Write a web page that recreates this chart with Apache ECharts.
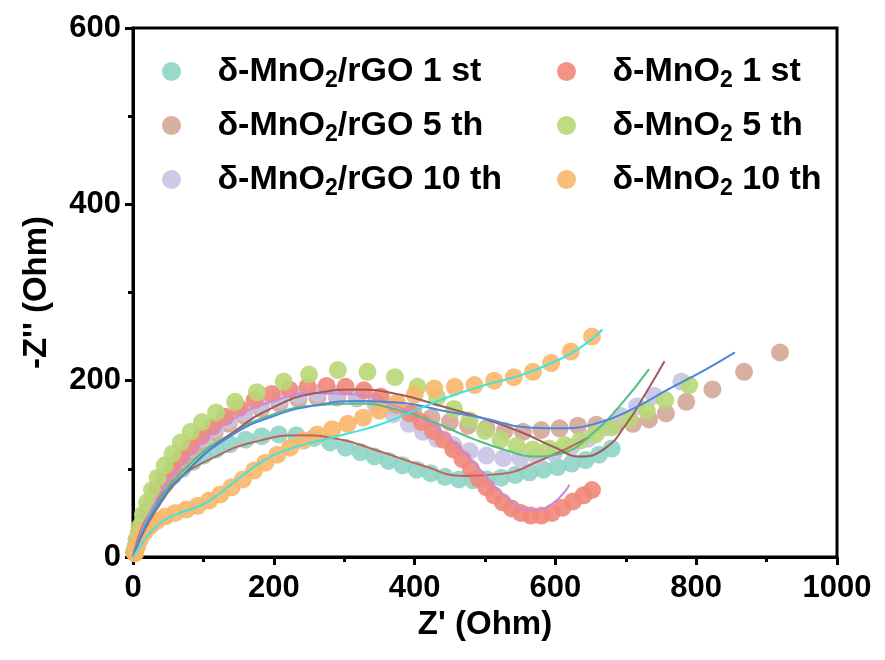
<!DOCTYPE html>
<html>
<head>
<meta charset="utf-8">
<script src="https://cdn.jsdelivr.net/npm/echarts@6/dist/echarts.min.js"></script>
<style>
  html, body { margin: 0; padding: 0; background: #fff; }
  #main { width: 885px; height: 660px; }
</style>
</head>
<body>
<div id="main"></div>
<script>
// measured points, [Z', -Z'']
var rgo1 = [[3,8],[6,18],[10,30],[15,42],[20,52],[27,62],[35,72],[45,82],[57,92],[70,100],[85,108],[100,115],[118,122],[138,128],[160,133],[183,137],[207,139],[232,138],[257,135],[280,130],[302,124],[323,119],[343,114],[363,109],[383,104],[403,99],[423,95],[443,91],[463,88],[483,87],[503,88],[523,90],[543,93],[563,96],[583,99],[603,102],[623,106],[643,110],[662,116],[680,123]];
var rgo5 = [[2,6],[5,15],[9,27],[14,39],[20,50],[27,62],[35,73],[45,85],[56,97],[68,108],[82,119],[98,130],[116,141],[136,151],[158,160],[182,168],[208,174],[235,179],[262,181],[290,181],[318,180],[345,176],[372,170],[398,164],[424,158],[450,153],[476,149],[502,146],[528,143],[554,142],[580,144],[606,146],[632,149],[658,150],[684,150],[710,151],[733,156],[757,163],[786,176],[823,190],[868,210],[919,232]];
var rgo10 = [[2,6],[5,16],[9,28],[14,40],[20,52],[27,64],[35,76],[45,88],[56,100],[68,112],[82,123],[98,134],[116,145],[136,155],[158,164],[182,172],[208,179],[235,184],[262,186],[290,185],[318,181],[345,172],[370,162],[392,151],[412,142],[432,134],[455,127],[478,120],[502,115],[526,112],[550,112],[574,114],[598,118],[622,124],[646,134],[670,147],[693,160],[716,171],[740,183],[779,199]];
var mno1 = [[2,5],[5,15],[9,28],[14,40],[20,52],[27,64],[35,76],[45,89],[56,101],[68,113],[82,125],[97,137],[113,148],[131,159],[151,169],[173,178],[197,185],[222,190],[248,193],[275,194],[302,193],[328,189],[352,182],[374,173],[393,163],[410,153],[426,143],[441,133],[455,122],[468,111],[480,100],[491,89],[502,79],[513,70],[525,62],[538,55],[551,50],[565,47],[580,47],[595,50],[610,56],[625,63],[640,70],[652,76]];
var mno5 = [[2,8],[5,20],[9,34],[14,48],[20,62],[27,76],[35,90],[45,104],[56,117],[68,130],[82,142],[98,153],[118,164],[145,176],[176,187],[214,199],[250,207],[291,212],[333,210],[372,204],[404,193],[432,181],[456,168],[478,155],[500,143],[522,133],[545,126],[568,122],[591,123],[613,127],[635,132],[657,139],[680,147],[705,156],[730,166],[756,178],[790,195]];
var mno10 = [[3,4],[6,12],[10,20],[16,28],[24,35],[34,41],[46,46],[60,50],[76,54],[92,58],[108,64],[124,71],[140,79],[156,88],[172,98],[188,107],[205,116],[223,124],[242,132],[262,139],[283,145],[305,151],[327,158],[350,166],[375,175],[400,184],[428,191],[457,193],[485,195],[513,200],[541,204],[568,210],[594,220],[622,233],[652,250]];

// fitted curves
var fitRgo1 = [[0,0],[20,45],[60,85],[120,115],[180,132],[235,138],[290,134],[350,120],[410,104],[470,92],[520,94],[580,110],[648,136]];
var fitMno1 = [[0,0],[30,60],[80,115],[140,155],[200,177],[260,186],[320,184],[370,172],[410,158],[450,135],[490,102],[530,68],[565,53],[595,60],[620,82]];
var fitMno5 = [[0,0],[30,55],[80,105],[140,140],[200,162],[260,172],[320,174],[380,166],[430,152],[480,135],[530,121],[570,114],[610,118],[650,138],[690,170],[733,213]];
var fitRgo10 = [[0,0],[30,50],[80,100],[140,140],[200,170],[260,186],[320,190],[380,184],[430,173],[490,159],[550,142],[600,124],[635,114],[670,123],[700,150],[730,188],[755,222]];
var fitRgo5 = [[0,0],[30,52],[80,100],[140,138],[200,160],[260,172],[320,177],[380,175],[440,166],[500,157],[560,147],[610,146],[660,152],[710,168],[760,190],[810,211],[855,232]];
var fitMno10 = [[0,0],[10,12],[25,28],[45,42],[70,51],[95,58],[120,70],[150,89],[185,109],[220,122],[260,131],[300,139],[350,150],[400,166],[450,182],[500,195],[550,206],[600,222],[640,240],[667,258]];

var names = ['δ-MnO2/rGO 1 st','δ-MnO2/rGO 5 th','δ-MnO2/rGO 10 th','δ-MnO2 1 st','δ-MnO2 5 th','δ-MnO2 10 th'];
var colors = ['#8fd4c6','#d4a797','#c6c4e4','#f2877a','#b8d877','#f8b76c'];

var FONT = '"Liberation Sans", Arial, sans-serif';

function legendFmt(name) {
  var parts = name.split('2');
  return '{a|' + parts[0] + '}{s|2}{a|' + parts[1] + '}';
}
var legendText = {
  fontFamily: FONT,
  rich: {
    a: { fontSize: 34, fontWeight: 'bold', color: '#000', fontFamily: FONT, lineHeight: 40 },
    s: { fontSize: 23, fontWeight: 'bold', color: '#000', fontFamily: FONT, lineHeight: 40, padding: [18, 0, 0, 0] }
  }
};

function dots(i, data) {
  return {
    name: names[i], type: 'scatter', data: data, symbolSize: 18,
    itemStyle: { color: colors[i], opacity: 0.9 }, z: 2
  };
}
function fit(data, c) {
  return {
    type: 'line', data: data, smooth: true, showSymbol: false, silent: true,
    lineStyle: { color: c, width: 2 }, z: 5
  };
}

var chart = echarts.init(document.getElementById('main'));
chart.setOption({
  animation: false,
  backgroundColor: '#fff',
  grid: { left: 133, right: 48, top: 28, bottom: 103, show: true, borderColor: '#000', borderWidth: 3 },
  legend: [{
    data: names.slice(0, 3), orient: 'vertical', left: 157, top: 46,
    icon: 'circle', itemWidth: 82, itemHeight: 19, itemGap: 13,
    formatter: legendFmt, textStyle: legendText
  }, {
    data: names.slice(3), orient: 'vertical', left: 552, top: 46,
    icon: 'circle', itemWidth: 82, itemHeight: 19, itemGap: 13,
    formatter: legendFmt, textStyle: legendText
  }],
  xAxis: {
    type: 'value', min: 0, max: 1000, interval: 200,
    name: "Z' (Ohm)", nameLocation: 'middle', nameGap: 50,
    nameTextStyle: { fontSize: 33, fontWeight: 'bold', color: '#000', fontFamily: FONT },
    axisLine: { lineStyle: { color: '#000', width: 3 } },
    axisTick: { length: 8, lineStyle: { width: 3, color: '#000' } },
    minorTick: { show: true, splitNumber: 2, length: 5, lineStyle: { width: 3, color: '#000' } },
    axisLabel: { fontSize: 31, fontWeight: 'bold', color: '#000', fontFamily: FONT, margin: 16,
      formatter: function (v) { return String(v); } },
    splitLine: { show: false }
  },
  yAxis: {
    type: 'value', min: 0, max: 600, interval: 200,
    name: "-Z'' (Ohm)", nameLocation: 'middle', nameGap: 80,
    nameTextStyle: { fontSize: 33, fontWeight: 'bold', color: '#000', fontFamily: FONT },
    axisLine: { lineStyle: { color: '#000', width: 3 } },
    axisTick: { length: 8, lineStyle: { width: 3, color: '#000' } },
    minorTick: { show: true, splitNumber: 2, length: 5, lineStyle: { width: 3, color: '#000' } },
    axisLabel: { fontSize: 31, fontWeight: 'bold', color: '#000', fontFamily: FONT, margin: 12,
      formatter: function (v) { return String(v); } },
    splitLine: { show: false }
  },
  series: [
    dots(0, rgo1), dots(1, rgo5), dots(2, rgo10), dots(3, mno1), dots(4, mno5), dots(5, mno10),
    fit(fitRgo1, '#c0625e'),
    fit(fitMno1, '#c98ae0'),
    fit(fitMno5, '#52be84'),
    fit(fitRgo10, '#9b5b5b'),
    fit(fitRgo5, '#4d86dd'),
    fit(fitMno10, '#3ee6da')
  ]
});
</script>
</body>
</html>
